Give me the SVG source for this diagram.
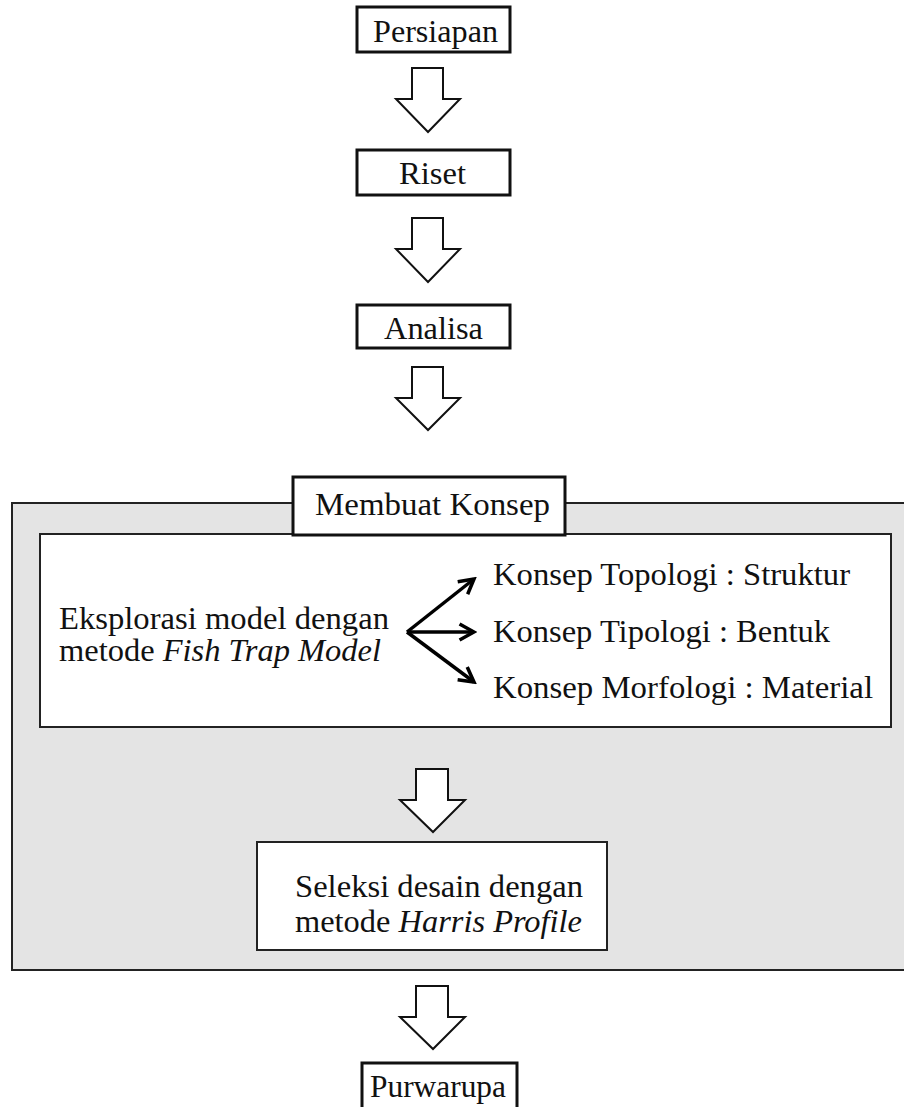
<svg xmlns="http://www.w3.org/2000/svg" width="904" height="1107" viewBox="0 0 904 1107">
  <style>
    .box { fill: #fff; stroke: #111; stroke-width: 3; }
    .thin { fill: #fff; stroke: #222; stroke-width: 2; }
    .blk { fill: #fff; stroke: #111; stroke-width: 2; stroke-linejoin: miter; }
    .fan { stroke: #000; stroke-width: 3.5; fill: none; }
  </style>
  <defs>
    <marker id="chev" viewBox="0 0 12 12" refX="10" refY="6" markerWidth="5.5" markerHeight="5.5" orient="auto" markerUnits="strokeWidth">
      <path d="M1,1 L10,6 L1,11" fill="none" stroke="#000" stroke-width="2.2"/>
    </marker>
  </defs>

  <rect width="904" height="1107" fill="#fff"/>

  <g id="panel-membuat-konsep">
    <rect x="12" y="503" width="900" height="467" fill="#e4e4e4" stroke="#222" stroke-width="2"/>
  </g>

  <g font-family="Liberation Serif, serif" font-size="31" fill="#111">
  <g id="node-persiapan">
    <rect class="box" x="357" y="7" width="153" height="45"/>
    <text x="373" y="42" textLength="125" lengthAdjust="spacingAndGlyphs">Persiapan</text>
  </g>
  <g id="node-riset">
    <rect class="box" x="357" y="150" width="153" height="45"/>
    <text x="399" y="184" textLength="67" lengthAdjust="spacingAndGlyphs">Riset</text>
  </g>
  <g id="node-analisa">
    <rect class="box" x="357" y="305" width="153" height="43"/>
    <text x="384" y="339" textLength="99" lengthAdjust="spacingAndGlyphs">Analisa</text>
  </g>

  <g id="node-eksplorasi">
    <rect class="thin" x="40" y="534" width="851" height="193"/>
    <text x="59" y="629" textLength="330" lengthAdjust="spacingAndGlyphs">Eksplorasi model dengan</text>
    <text x="59" y="661" textLength="322" lengthAdjust="spacingAndGlyphs">metode <tspan font-style="italic">Fish Trap Model</tspan></text>
  </g>

  <g id="node-membuat-konsep">
    <rect class="box" x="293" y="477" width="272" height="58"/>
    <text x="315" y="515" textLength="235" lengthAdjust="spacingAndGlyphs">Membuat Konsep</text>
  </g>

  <g id="node-topologi">
    <text x="493" y="585" textLength="357" lengthAdjust="spacingAndGlyphs">Konsep Topologi : Struktur</text>
  </g>
  <g id="node-tipologi">
    <text x="493" y="642" textLength="337" lengthAdjust="spacingAndGlyphs">Konsep Tipologi : Bentuk</text>
  </g>
  <g id="node-morfologi">
    <text x="493" y="698" textLength="380" lengthAdjust="spacingAndGlyphs">Konsep Morfologi : Material</text>
  </g>

  <g id="node-seleksi">
    <rect class="thin" x="257" y="842" width="350" height="108"/>
    <text x="295" y="897" textLength="288" lengthAdjust="spacingAndGlyphs">Seleksi desain dengan</text>
    <text x="295" y="932" textLength="287" lengthAdjust="spacingAndGlyphs">metode <tspan font-style="italic">Harris Profile</tspan></text>
  </g>

  <g id="node-purwarupa">
    <rect class="box" x="362" y="1063" width="155" height="50"/>
    <text x="370" y="1097" textLength="136" lengthAdjust="spacingAndGlyphs">Purwarupa</text>
  </g>
  </g>

  <g id="connectors">
    <path class="blk" d="M412,68 L443,68 L443,99 L460,99 L428,132 L396,99 L412,99 Z"/>
    <path class="blk" d="M412,218 L443,218 L443,249 L460,249 L428,282 L396,249 L412,249 Z"/>
    <path class="blk" d="M412,367 L443,367 L443,398 L460,398 L428,430 L396,398 L412,398 Z"/>
    <path class="blk" d="M416,769 L448,769 L448,800 L465,800 L433,832 L400,800 L416,800 Z"/>
    <path class="blk" d="M416,986 L448,986 L448,1017 L465,1017 L433,1049 L400,1017 L416,1017 Z"/>
    <line class="fan" x1="407" y1="632" x2="474" y2="579" marker-end="url(#chev)"/>
    <line class="fan" x1="407" y1="632" x2="474" y2="632" marker-end="url(#chev)"/>
    <line class="fan" x1="407" y1="632" x2="474" y2="682" marker-end="url(#chev)"/>
  </g>
</svg>
